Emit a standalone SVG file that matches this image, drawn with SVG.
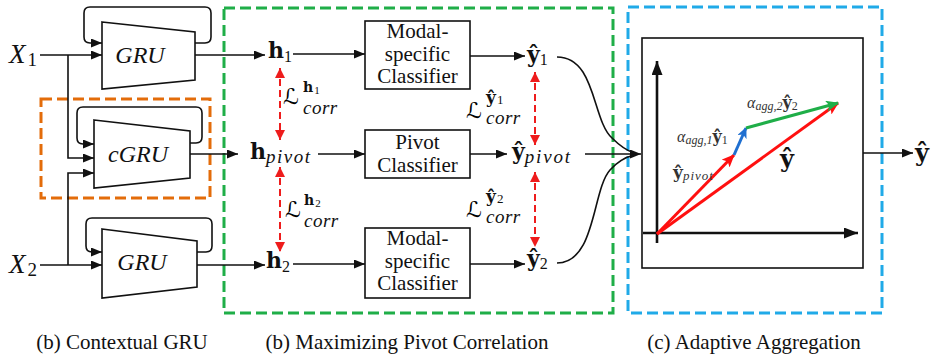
<svg xmlns="http://www.w3.org/2000/svg" width="935" height="356" viewBox="0 0 935 356">
<style>
.t{font-family:"Liberation Serif","Times New Roman",serif;font-size:21px;fill:#111}
.m{font-family:"Liberation Serif","Times New Roman",serif;fill:#111}
.b{font-family:"DejaVu Serif","Liberation Serif",serif;font-weight:bold}
.sc{font-family:"DejaVu Serif","DejaVu Sans",serif;font-style:italic}
.it{font-style:italic}
.shape{fill:#fff;stroke:#111;stroke-width:1.6}
.ln{fill:none;stroke:#111;stroke-width:1.6}
.arr{fill:none;stroke:#111;stroke-width:1.6;marker-end:url(#ah)}
.rd{fill:none;stroke:#ee1c1c;stroke-width:2;stroke-dasharray:7 4;marker-start:url(#rh);marker-end:url(#rh)}
.box{fill:none;stroke-width:3;stroke-dasharray:11 5}
.small{fill:#333}
</style>
<defs>
<marker id="ah" markerUnits="userSpaceOnUse" markerWidth="11" markerHeight="9" refX="11" refY="4.5" orient="auto"><path d="M0,0 L11,4.5 L0,9 z" fill="#111"/></marker>
<marker id="ahb" markerUnits="userSpaceOnUse" markerWidth="14" markerHeight="11" refX="14" refY="5.5" orient="auto"><path d="M0,0 L14,5.5 L0,11 z" fill="#111"/></marker>
<marker id="rh" markerUnits="userSpaceOnUse" markerWidth="10" markerHeight="10" refX="10" refY="5" orient="auto-start-reverse"><path d="M0,0 L10,5 L0,10 z" fill="#ee1c1c"/></marker>
<marker id="vr" markerUnits="userSpaceOnUse" markerWidth="13" markerHeight="11" refX="12" refY="5.5" orient="auto"><path d="M0,0 L13,5.5 L0,11 L3,5.5 z" fill="#ff1010"/></marker>
<marker id="vb" markerUnits="userSpaceOnUse" markerWidth="11" markerHeight="10" refX="10" refY="5" orient="auto"><path d="M0,0 L11,5 L0,10 L3,5 z" fill="#1f6fd0"/></marker>
<marker id="vg" markerUnits="userSpaceOnUse" markerWidth="13" markerHeight="11" refX="12" refY="5.5" orient="auto"><path d="M0,0 L13,5.5 L0,11 L3,5.5 z" fill="#1fae48"/></marker>
</defs>
<rect width="935" height="356" fill="#fff"/>

<g id="containers">
<rect class="box" x="41" y="99" width="169" height="99" stroke="#e36c0a"/>
<rect class="box" x="224" y="8" width="389" height="305" stroke="#1fae48"/>
<rect class="box" x="628" y="7" width="254" height="306" stroke="#20aae8"/>
</g>

<g id="connectors">
<path class="arr" d="M195,43 H205 Q211,43 211,37 V13 Q211,7 205,7 H90 Q84,7 84,13 V37 Q84,43 90,43 H102"/>
<path class="arr" d="M40,55 H102"/>
<path class="arr" d="M68,55 V158 H94"/>
<path class="arr" d="M195,55 H265"/>
<path class="arr" d="M190,143 H196 Q202,143 202,137 V113 Q202,107 196,107 H83 Q77,107 77,113 V138 Q77,144 83,144 H94"/>
<path class="arr" d="M68,265 V173 H94"/>
<path class="arr" d="M190,154 H238"/>
<path class="arr" d="M197,252 H206 Q212,252 212,246 V224 Q212,218 206,218 H92 Q86,218 86,224 V246 Q86,252 92,252 H102"/>
<path class="arr" d="M40,265 H102"/>
<path class="arr" d="M197,265 H265"/>
<path class="arr" d="M293,54 H365"/>
<path class="arr" d="M318,154 H365"/>
<path class="arr" d="M293,264 H365"/>
<path class="arr" d="M470,56 H525"/>
<path class="arr" d="M470,154 H507"/>
<path class="arr" d="M470,264 H525"/>
<path class="arr" d="M585,154 H641"/>
<path class="ln" d="M557,57 C596,57 592,120 612,138 C620,146 628,151 634,153"/>
<path class="ln" d="M557,263 C596,263 592,190 610,170 C618,161 626,157 634,155"/>
<path class="rd" d="M280,68 V140"/>
<path class="rd" d="M280,167 V252"/>
<path class="rd" d="M535,72 V145"/>
<path class="rd" d="M535,172 V247"/>
<path class="arr" d="M863,153 H913"/>
</g>

<g id="node-x1"><text class="m" x="9" y="63"><tspan class="it" font-size="27">X</tspan><tspan font-size="19" dx="2" dy="3">1</tspan></text></g>
<g id="node-x2"><text class="m" x="9" y="273"><tspan class="it" font-size="27">X</tspan><tspan font-size="19" dx="2" dy="3">2</tspan></text></g>

<g id="node-gru1"><polygon class="shape" points="102,22 195,32 195,80 102,89"/><text class="m it" x="140" y="63" font-size="24" text-anchor="middle">GRU</text></g>
<g id="node-cgru"><polygon class="shape" points="94,120 190,131 190,178 94,188"/><text class="m it" x="138" y="162" font-size="24" text-anchor="middle">cGRU</text></g>
<g id="node-gru2"><polygon class="shape" points="102,229 197,241 197,287 102,298"/><text class="m it" x="142" y="270" font-size="24" text-anchor="middle">GRU</text></g>

<g id="node-h1"><text class="m" x="268" y="58"><tspan class="b" font-size="22">h</tspan><tspan font-size="16" dy="4">1</tspan></text></g>
<g id="node-hpivot"><text class="m" x="250" y="159"><tspan class="b" font-size="22">h</tspan><tspan class="it" font-size="19" dy="4" letter-spacing="1.5">pivot</tspan></text></g>
<g id="node-h2"><text class="m" x="266" y="268"><tspan class="b" font-size="22">h</tspan><tspan font-size="16" dy="4">2</tspan></text></g>

<g id="node-cls1"><rect class="shape" x="365" y="21" width="105" height="68"/>
<text class="t" x="417.5" text-anchor="middle"><tspan x="417.5" y="38">Modal-</tspan><tspan x="417.5" y="61">specific</tspan><tspan x="417.5" y="83">Classifier</tspan></text></g>
<g id="node-clspivot"><rect class="shape" x="365" y="130" width="105" height="48"/>
<text class="t" x="417.5" text-anchor="middle"><tspan x="417.5" y="149">Pivot</tspan><tspan x="417.5" y="172">Classifier</tspan></text></g>
<g id="node-cls2"><rect class="shape" x="365" y="228" width="105" height="70"/>
<text class="t" x="417.5" text-anchor="middle"><tspan x="417.5" y="245">Modal-</tspan><tspan x="417.5" y="268">specific</tspan><tspan x="417.5" y="290">Classifier</tspan></text></g>

<g id="node-y1"><text class="m" x="527" y="62"><tspan class="b" font-size="22">ŷ</tspan><tspan font-size="16" dy="3">1</tspan></text></g>
<g id="node-ypivot"><text class="m" x="512" y="159"><tspan class="b" font-size="22">ŷ</tspan><tspan class="it" font-size="19" dy="4" letter-spacing="1.8">pivot</tspan></text></g>
<g id="node-y2"><text class="m" x="527" y="266"><tspan class="b" font-size="22">ŷ</tspan><tspan font-size="16" dy="3">2</tspan></text></g>

<g id="node-loss-h1"><text class="sc" x="283" y="104" font-size="22">ℒ</text><text class="m" x="303" y="92"><tspan class="b" font-size="14">h</tspan><tspan font-size="11" dx="1" dy="2">1</tspan></text><text class="m it" x="303" y="114" font-size="19" letter-spacing="0.5">corr</text></g>
<g id="node-loss-h2"><text class="sc" x="285" y="217" font-size="22">ℒ</text><text class="m" x="304" y="205"><tspan class="b" font-size="14">h</tspan><tspan font-size="11" dx="1" dy="2">2</tspan></text><text class="m it" x="304" y="227" font-size="19" letter-spacing="0.5">corr</text></g>
<g id="node-loss-y1"><text class="sc" x="466" y="118" font-size="22">ℒ</text><text class="m" x="486" y="103"><tspan class="b" font-size="17">ŷ</tspan><tspan font-size="13" dx="1" dy="1">1</tspan></text><text class="m it" x="486" y="124" font-size="19" letter-spacing="0.5">corr</text></g>
<g id="node-loss-y2"><text class="sc" x="466" y="217" font-size="22">ℒ</text><text class="m" x="486" y="202"><tspan class="b" font-size="17">ŷ</tspan><tspan font-size="13" dx="1" dy="1">2</tspan></text><text class="m it" x="486" y="223" font-size="19" letter-spacing="0.5">corr</text></g>

<g id="node-agg">
<rect class="shape" x="642" y="38" width="221" height="230"/>
<path d="M657,243 V61" fill="none" stroke="#111" stroke-width="2.6" marker-end="url(#ahb)"/>
<path d="M643,233 H858" fill="none" stroke="#111" stroke-width="2.6" marker-end="url(#ahb)"/>
<path d="M657,234 L838,103" fill="none" stroke="#ff1010" stroke-width="3" marker-end="url(#vr)"/>
<path d="M657,234 L734,155" fill="none" stroke="#ff1010" stroke-width="3" marker-end="url(#vr)"/>
<path d="M734,155 L746,128" fill="none" stroke="#1f6fd0" stroke-width="3" marker-end="url(#vb)"/>
<path d="M746,128 L838,103" fill="none" stroke="#1fae48" stroke-width="3" marker-end="url(#vg)"/>
<text class="m small" x="747" y="108"><tspan class="it" font-size="16">α</tspan><tspan class="it" font-size="12" dy="2">agg,2</tspan><tspan class="b" font-size="16" dy="-2">ŷ</tspan><tspan font-size="12" dy="2">2</tspan></text>
<text class="m small" x="677" y="142"><tspan class="it" font-size="16">α</tspan><tspan class="it" font-size="12" dy="2">agg,1</tspan><tspan class="b" font-size="16" dy="-2">ŷ</tspan><tspan font-size="12" dy="2">1</tspan></text>
<text class="m small" x="673" y="178"><tspan class="b" font-size="17">ŷ</tspan><tspan class="it" font-size="13" dy="2" letter-spacing="1">pivot</tspan></text>
<text class="m" x="780" y="167"><tspan class="b" font-size="24">ŷ</tspan></text>
</g>

<g id="node-yout"><text class="m" x="915" y="161"><tspan class="b" font-size="24">ŷ</tspan></text></g>

<g id="captions">
<text class="t" x="122" y="349" text-anchor="middle">(b) Contextual GRU</text>
<text class="t" x="407" y="349" text-anchor="middle">(b) Maximizing Pivot Correlation</text>
<text class="t" x="754" y="349" text-anchor="middle">(c) Adaptive Aggregation</text>
</g>
</svg>
